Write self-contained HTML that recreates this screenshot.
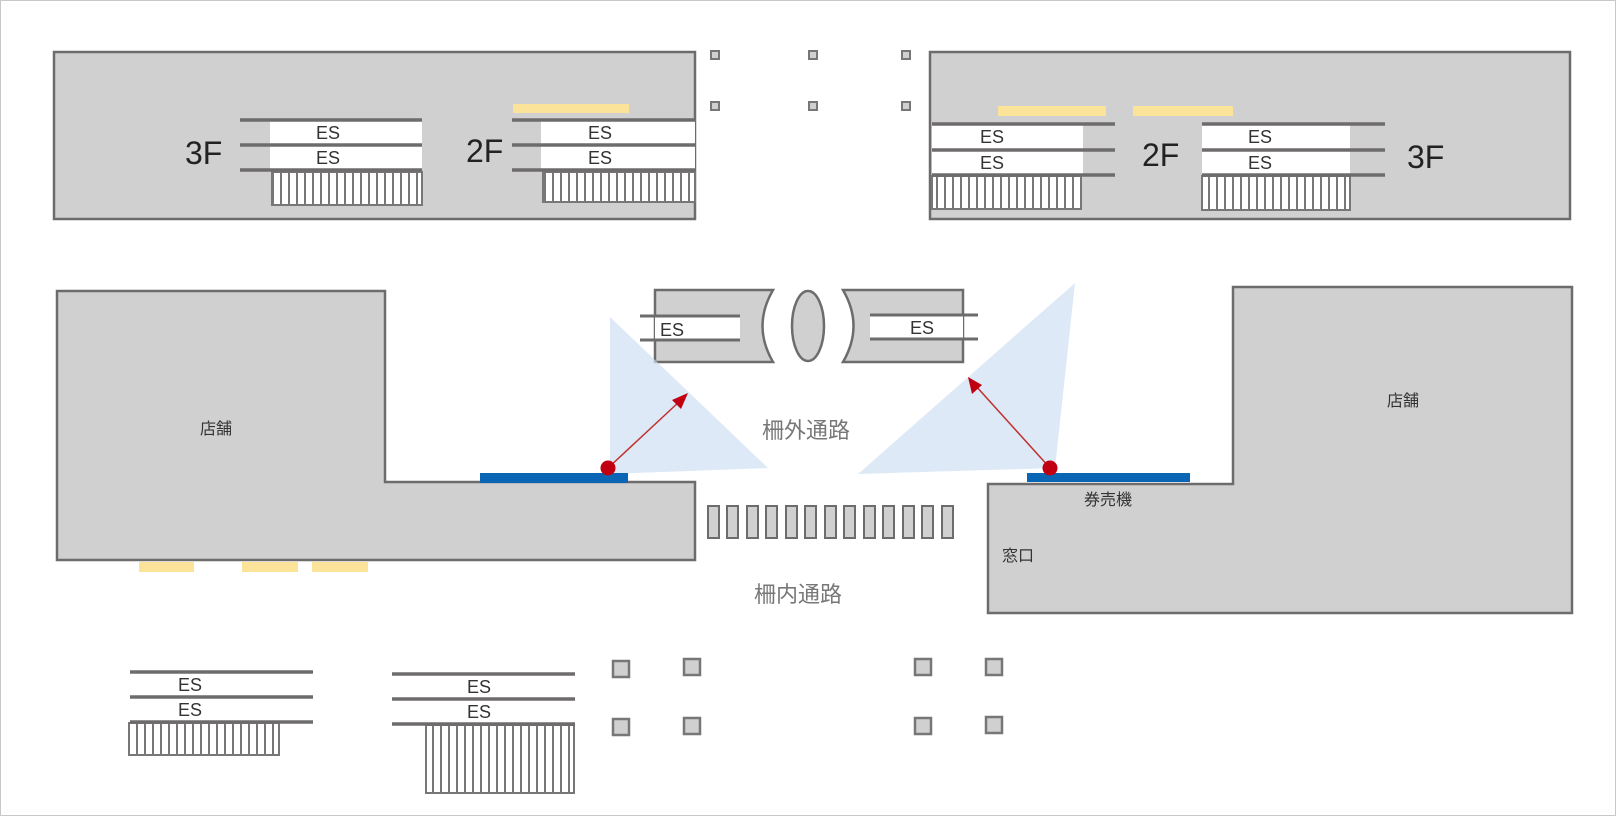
<!DOCTYPE html>
<html><head><meta charset="utf-8"><style>
html,body{margin:0;padding:0;background:#fff}
svg{display:block}
text{font-family:"Liberation Sans","Noto Sans CJK JP",sans-serif}
</style></head><body>
<svg width="1616" height="816" viewBox="0 0 1616 816" xmlns="http://www.w3.org/2000/svg">
<defs>
<pattern id="h" width="8" height="10" patternUnits="userSpaceOnUse">
<rect width="8" height="10" fill="#fff"/><rect x="0" width="2" height="10" fill="#777"/>
</pattern>
</defs>
<rect x="0.5" y="0.5" width="1615" height="815" fill="#fff" stroke="#c8c8c8"/>
<g stroke="#6e6b6b" stroke-width="2.5" fill="#d1d0d0">
<rect x="54" y="52" width="641" height="167"/>
<rect x="930" y="52" width="640" height="167"/>
<polygon points="57,291 385,291 385,482 695,482 695,560 57,560"/>
<polygon points="1233,287 1572,287 1572,613 988,613 988,484 1233,484"/>
</g>
<!-- yellow bars -->
<g fill="#fbe39a">
<rect x="513" y="104" width="116" height="9"/>
<rect x="998" y="106" width="108" height="10"/>
<rect x="1133" y="106" width="100" height="10"/>
<rect x="139" y="562" width="55" height="10"/>
<rect x="242" y="562" width="56" height="10"/>
<rect x="312" y="562" width="56" height="10"/>
</g>
<!-- top-left ES groups -->
<rect x="270" y="120" width="152" height="50" fill="#fff"/>
<rect x="272" y="172" width="150" height="33" fill="url(#h)" stroke="#777" stroke-width="2"/>
<rect x="541" y="120" width="154" height="50" fill="#fff"/>
<rect x="543" y="172" width="152" height="30" fill="url(#h)" stroke="#777" stroke-width="2"/>
<rect x="932" y="124" width="151" height="51" fill="#fff"/>
<rect x="932" y="176" width="149" height="33" fill="url(#h)" stroke="#777" stroke-width="2"/>
<rect x="1202" y="124" width="148" height="51" fill="#fff"/>
<rect x="1202" y="176" width="148" height="34" fill="url(#h)" stroke="#777" stroke-width="2"/>
<g stroke="#6e6b6b" stroke-width="3.5">
<line x1="240" y1="120" x2="422" y2="120"/><line x1="240" y1="145" x2="422" y2="145"/><line x1="240" y1="170" x2="422" y2="170"/>
<line x1="512" y1="120" x2="695" y2="120"/><line x1="512" y1="145" x2="695" y2="145"/><line x1="512" y1="170" x2="695" y2="170"/>
<line x1="932" y1="124" x2="1115" y2="124"/><line x1="932" y1="150" x2="1115" y2="150"/><line x1="932" y1="175" x2="1115" y2="175"/>
<line x1="1202" y1="124" x2="1385" y2="124"/><line x1="1202" y1="150" x2="1385" y2="150"/><line x1="1202" y1="175" x2="1385" y2="175"/>
</g>
<g font-size="18" fill="#333" text-anchor="middle">
<text x="328" y="139">ES</text><text x="328" y="164">ES</text>
<text x="600" y="139">ES</text><text x="600" y="164">ES</text>
<text x="992" y="143">ES</text><text x="992" y="169">ES</text>
<text x="1260" y="143">ES</text><text x="1260" y="169">ES</text>
</g>
<g font-size="32" fill="#222">
<text x="185" y="164">3F</text><text x="466" y="162">2F</text>
<text x="1142" y="166">2F</text><text x="1407" y="168">3F</text>
</g>
<!-- small squares top -->
<g fill="#d1d0d0" stroke="#777" stroke-width="2">
<rect x="711" y="51" width="8" height="8"/><rect x="809" y="51" width="8" height="8"/><rect x="902" y="51" width="8" height="8"/>
<rect x="711" y="102" width="8" height="8"/><rect x="809" y="102" width="8" height="8"/><rect x="902" y="102" width="8" height="8"/>
</g>
<!-- center ES pods -->
<g stroke="#6e6b6b" stroke-width="2.5" fill="#d1d0d0">
<path d="M655,290 L773,290 Q752,326 773,362 L655,362 Z"/>
<path d="M843,290 L963,290 L963,362 L843,362 Q864,326 843,290 Z"/>
<ellipse cx="808" cy="326" rx="16" ry="35"/>
</g>
<rect x="655" y="316" width="85" height="24" fill="#fff"/>
<rect x="870" y="316" width="93" height="24" fill="#fff"/>
<g stroke="#6e6b6b" stroke-width="3">
<line x1="640" y1="316" x2="740" y2="316"/><line x1="640" y1="340" x2="740" y2="340"/>
<line x1="870" y1="315" x2="978" y2="315"/><line x1="870" y1="339" x2="978" y2="339"/>
</g>
<g font-size="18" fill="#333">
<text x="660" y="336">ES</text><text x="910" y="334">ES</text>
</g>
<!-- light triangles -->
<g fill="#cfe0f2" opacity="0.7">
<polygon points="610,317 610,474 768,468"/>
<polygon points="1075,283 1055,468 858,474"/>
</g>
<!-- blue bars -->
<rect x="480" y="473" width="148" height="10" fill="#0a66b5"/>
<rect x="1027" y="473" width="163" height="9" fill="#0a66b5"/>
<!-- arrows -->
<g stroke="#c0302e" stroke-width="1.5">
<line x1="608" y1="468" x2="680" y2="401"/>
<line x1="1050" y1="468" x2="975" y2="385"/>
</g>
<polygon points="688,393 672,400 681,409" fill="#c00010"/>
<polygon points="968,377 972,394 982,385" fill="#c00010"/>
<circle cx="608" cy="468" r="7.5" fill="#c00010"/>
<circle cx="1050" cy="468" r="7.5" fill="#c00010"/>
<!-- gates -->
<g fill="#d1d0d0" stroke="#6e6b6b" stroke-width="2">
<rect x="708" y="506" width="11" height="32"/><rect x="727" y="506" width="11" height="32"/><rect x="747" y="506" width="11" height="32"/>
<rect x="766" y="506" width="11" height="32"/><rect x="786" y="506" width="11" height="32"/><rect x="805" y="506" width="11" height="32"/>
<rect x="825" y="506" width="11" height="32"/><rect x="844" y="506" width="11" height="32"/><rect x="864" y="506" width="11" height="32"/>
<rect x="883" y="506" width="11" height="32"/><rect x="903" y="506" width="11" height="32"/><rect x="922" y="506" width="11" height="32"/>
<rect x="942" y="506" width="11" height="32"/>
</g>
<g fill="#333" font-size="16">
<text x="200" y="434">店舗</text>
<text x="1387" y="406">店舗</text>
<text x="1084" y="505">券売機</text>
<text x="1002" y="561">窓口</text>
</g>
<g fill="#777" font-size="22">
<text x="762" y="438">柵外通路</text>
<text x="754" y="602">柵内通路</text>
</g>
<!-- bottom squares -->
<g fill="#d1d0d0" stroke="#777" stroke-width="2.5">
<rect x="613" y="661" width="16" height="16"/><rect x="684" y="659" width="16" height="16"/>
<rect x="915" y="659" width="16" height="16"/><rect x="986" y="659" width="16" height="16"/>
<rect x="613" y="719" width="16" height="16"/><rect x="684" y="718" width="16" height="16"/>
<rect x="915" y="718" width="16" height="16"/><rect x="986" y="717" width="16" height="16"/>
</g>
<!-- bottom ES -->
<rect x="129" y="723" width="150" height="32" fill="url(#h)" stroke="#777" stroke-width="2"/>
<rect x="426" y="725" width="148" height="68" fill="url(#h)" stroke="#777" stroke-width="2"/>
<g stroke="#6e6b6b" stroke-width="3.5">
<line x1="130" y1="672" x2="313" y2="672"/><line x1="130" y1="697" x2="313" y2="697"/><line x1="130" y1="722" x2="313" y2="722"/>
<line x1="392" y1="674" x2="575" y2="674"/><line x1="392" y1="699" x2="575" y2="699"/><line x1="392" y1="724" x2="575" y2="724"/>
</g>
<g font-size="18" fill="#333" text-anchor="middle">
<text x="190" y="691">ES</text><text x="190" y="716">ES</text>
<text x="479" y="693">ES</text><text x="479" y="718">ES</text>
</g>
</svg>
</body></html>
